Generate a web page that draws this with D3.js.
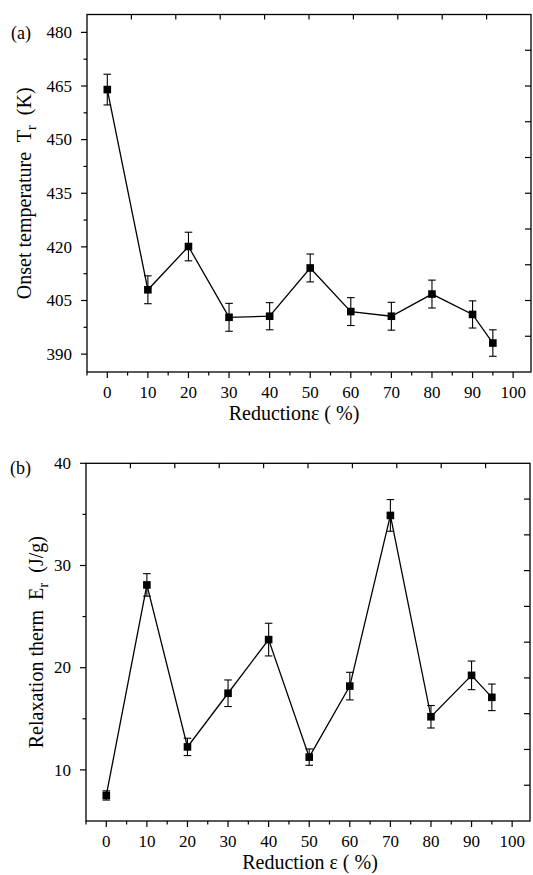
<!DOCTYPE html>
<html lang="en">
<head>
<meta charset="utf-8">
<title>Onset temperature and relaxation therm vs reduction</title>
<script src="https://d3js.org/d3.v7.min.js"></script>
<style>
  body { margin: 0; background: #fff; }
  svg { display: block; }
  text { fill: #000; white-space: pre; }
  .frame { fill: none; stroke: #000; stroke-width: 1.3; }
  .tick { stroke: #000; stroke-width: 1.2; }
  .series { fill: none; stroke: #000; stroke-width: 1.3; }
  .err { stroke: #000; stroke-width: 1.1; }
</style>
</head>
<body>
<svg id="chart" width="533" height="875" font-family="'Liberation Serif', 'Times New Roman', Times, 'DejaVu Serif', serif"></svg>
<script>
// reduction (%) for every sample
var reduction = [0, 10, 20, 30, 40, 50, 60, 70, 80, 90, 95];

// (a) onset temperature Tr (K) and its error
var onsetT   = [464.0, 408.0, 420.1, 400.3, 400.6, 414.1, 401.9, 400.6, 406.8, 401.1, 393.1];
var onsetErr = [4.3, 3.9, 4.0, 3.9, 3.8, 3.9, 3.9, 3.9, 3.9, 3.8, 3.7];

// (b) relaxation therm Er (J/g) and its error
var relaxE   = [7.5, 28.1, 12.25, 17.5, 22.75, 11.25, 18.2, 34.9, 15.2, 19.25, 17.1];
var relaxErr = [0.45, 1.1, 0.85, 1.3, 1.6, 0.8, 1.35, 1.55, 1.1, 1.4, 1.3];

// tick values
var xTicks = [0, 10, 20, 30, 40, 50, 60, 70, 80, 90, 100];
var xMinor = [-5, 5, 15, 25, 35, 45, 55, 65, 75, 85, 95];
var aTicks = [390, 405, 420, 435, 450, 465, 480];
var aMinor = [397.5, 412.5, 427.5, 442.5, 457.5, 472.5];
var bTicks = [10, 20, 30, 40];
var bMinor = [15, 25, 35];

var svg = d3.select("#chart");
var serif = "'Liberation Serif', 'Times New Roman', Times, 'DejaVu Serif', serif";

function panel(o) {
  var x = d3.scaleLinear().domain([-5, 104.4]).range([o.left, o.right]);
  var y = d3.scaleLinear().domain(o.yDomain).range([o.bottom, o.top]);
  var g = svg.append("g").attr("font-family", serif);

  // frame
  g.append("rect").attr("class", "frame")
    .attr("x", o.left).attr("y", o.top)
    .attr("width", o.right - o.left).attr("height", o.bottom - o.top);

  // bottom axis: outward ticks
  var bx = g.append("g").attr("transform", "translate(0," + o.bottom + ")");
  bx.selectAll(".maj").data(xTicks).enter().append("line").attr("class", "tick")
    .attr("x1", x).attr("x2", x).attr("y1", 0).attr("y2", 6);
  bx.selectAll(".min").data(xMinor).enter().append("line").attr("class", "tick")
    .attr("x1", x).attr("x2", x).attr("y1", 0).attr("y2", 3.5);
  bx.selectAll("text").data(xTicks).enter().append("text")
    .attr("x", x).attr("y", 26).attr("text-anchor", "middle")
    .attr("font-size", 17).text(function(d) { return d; });

  // left axis: outward ticks
  var ly = g.append("g").attr("transform", "translate(" + o.left + ",0)");
  ly.selectAll(".maj").data(o.yTicks).enter().append("line").attr("class", "tick")
    .attr("y1", y).attr("y2", y).attr("x1", 0).attr("x2", -6);
  ly.selectAll(".min").data(o.yMinor).enter().append("line").attr("class", "tick")
    .attr("y1", y).attr("y2", y).attr("x1", 0).attr("x2", -3.5);
  ly.selectAll("text").data(o.yTicks).enter().append("text")
    .attr("x", -15).attr("y", function(d) { return y(d); }).attr("dy", "0.34em")
    .attr("text-anchor", "end").attr("font-size", 17)
    .text(function(d) { return d; });

  // top and right: ten equal inward divisions
  var div = d3.range(1, 10);
  var tx = d3.scaleLinear().domain([0, 10]).range([o.left, o.right]);
  var ty = d3.scaleLinear().domain([0, 10]).range([o.top, o.bottom]);
  g.selectAll(".top").data(div).enter().append("line").attr("class", "tick")
    .attr("x1", tx).attr("x2", tx).attr("y1", o.top).attr("y2", o.top + 5);
  g.selectAll(".right").data(div).enter().append("line").attr("class", "tick")
    .attr("y1", ty).attr("y2", ty).attr("x1", o.right).attr("x2", o.right - 6);

  // data line
  var line = d3.line().x(function(d, i) { return x(reduction[i]); }).y(function(d) { return y(d); });
  g.append("path").attr("class", "series").datum(o.values).attr("d", line);

  // error bars
  var eb = g.selectAll(".eb").data(o.values).enter().append("g");
  eb.append("line").attr("class", "err")
    .attr("x1", function(d, i) { return x(reduction[i]); })
    .attr("x2", function(d, i) { return x(reduction[i]); })
    .attr("y1", function(d, i) { return y(d + o.errs[i]); })
    .attr("y2", function(d, i) { return y(d - o.errs[i]); });
  [1, -1].forEach(function(s) {
    eb.append("line").attr("class", "err")
      .attr("x1", function(d, i) { return x(reduction[i]) - 3.8; })
      .attr("x2", function(d, i) { return x(reduction[i]) + 3.8; })
      .attr("y1", function(d, i) { return y(d + s * o.errs[i]); })
      .attr("y2", function(d, i) { return y(d + s * o.errs[i]); });
  });

  // square markers
  g.selectAll(".pt").data(o.values).enter().append("rect")
    .attr("x", function(d, i) { return x(reduction[i]) - 3.8; })
    .attr("y", function(d) { return y(d) - 3.8; })
    .attr("width", 7.6).attr("height", 7.6).attr("fill", "#000");

  // panel tag
  g.append("text").attr("x", o.left - 76).attr("y", o.tagY)
    .attr("font-size", 18).text(o.tag);

  // y title, rotated
  var yt = g.append("text")
    .attr("transform", "translate(" + o.yTitleX + "," + ((o.top + o.bottom) / 2) + ") rotate(-90)")
    .attr("text-anchor", "middle").attr("font-size", 20);
  yt.append("tspan").text(o.yTitle[0]);
  yt.append("tspan").attr("dy", 5).attr("font-size", 15).text(o.yTitle[1]);
  yt.append("tspan").attr("dy", -5).text(o.yTitle[2]);

  // x title
  g.append("text").attr("x", o.xTitleX).attr("y", o.bottom + 48)
    .attr("text-anchor", "middle").attr("font-size", 20).text(o.xTitle);
}

panel({
  left: 87, right: 531, top: 14.5, bottom: 372,
  yDomain: [385, 485], yTicks: aTicks, yMinor: aMinor,
  values: onsetT, errs: onsetErr,
  tag: "(a)", tagY: 39,
  yTitle: ["Onset temperature  T", "r", "  (K)"], yTitleX: 31,
  xTitle: "Reductionε ( %)", xTitleX: 294
});

panel({
  left: 86, right: 530, top: 463.3, bottom: 821,
  yDomain: [5, 40], yTicks: bTicks, yMinor: bMinor,
  values: relaxE, errs: relaxErr,
  tag: "(b)", tagY: 474,
  yTitle: ["Relaxation therm  E", "r", "  (J/g)"], yTitleX: 43,
  xTitle: "Reduction ε ( %)", xTitleX: 310
});
</script>
</body>
</html>
